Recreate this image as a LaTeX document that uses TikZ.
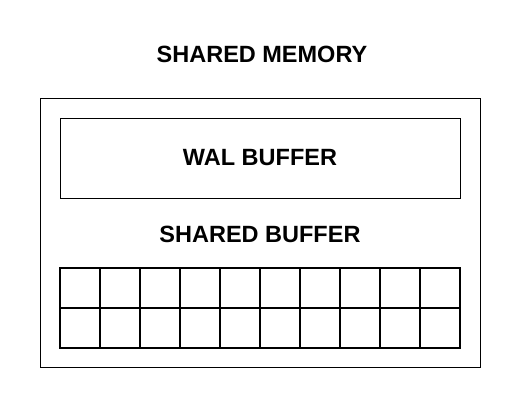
\documentclass[tikz,border=0pt]{standalone}
\usepackage{fontspec}
\setmainfont{Liberation Sans}
\usepackage{tikz}
\usetikzlibrary{positioning}

\tikzset{
  box/.style={draw, line width=1pt, inner sep=0pt},
  cell/.style={box, line width=1.2pt, minimum width=40pt, minimum height=40pt},
  heading/.style={font=\fontsize{23.5}{26}\selectfont\bfseries}
}

\begin{document}
\begin{tikzpicture}[x=1pt, y=-1pt]
\useasboundingbox (0,0) rectangle (520,408);
% Shared memory area
\node[heading] (title) at (262,54) {SHARED MEMORY};
\node[box, minimum width=440pt, minimum height=269pt] (memory) at (260,233) {};

% WAL buffer
\node[box, minimum width=400pt, minimum height=80pt] (wal) at (260,158) {};
\node[heading] (waltext) at (wal.center) {WAL BUFFER};

% Shared buffer pages
\node[heading] (shared) at (260,234) {SHARED BUFFER};
\foreach \r in {0,1}
  \foreach \c in {0,...,9}
    \node[cell] (page-\r-\c) at (80+40*\c, 288+40*\r) {};
\end{tikzpicture}
\end{document}
